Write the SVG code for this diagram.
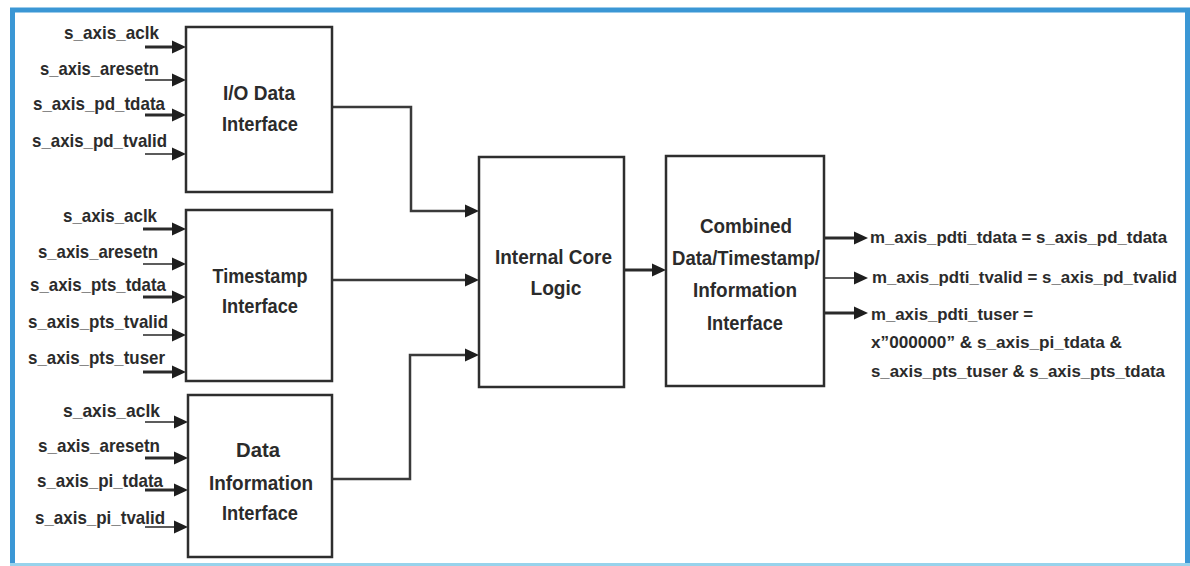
<svg xmlns="http://www.w3.org/2000/svg" width="1190" height="566" viewBox="0 0 1190 566">
<style>
.box{fill:#fff;stroke:#2e2e2e;stroke-width:2.5}
.t{font-family:"Liberation Sans",Arial,sans-serif;font-weight:bold;fill:#2b2b2b}
.lbl{font-size:19px;text-anchor:end}
.ttl{font-size:21px;text-anchor:middle}
.out{font-size:17px}
.w{fill:none;stroke:#2a2a2a;stroke-width:3}
.n{fill:none;stroke:#333;stroke-width:1.6}
.c{fill:none;stroke:#3a3a3a;stroke-width:2.5}
</style>
<defs>
<marker id="ah" markerUnits="userSpaceOnUse" markerWidth="15" markerHeight="14" refX="2" refY="6.5" orient="auto" overflow="visible">
<path d="M0,0 L14,6.5 L0,13 Z" fill="#1e1e1e"/>
</marker>
</defs>
<rect width="1190" height="566" fill="#fff"/>
<path d="M12.5,566 V10 H1187.5 V566" fill="none" stroke="#3b97d5" stroke-width="5"/>
<line x1="10" y1="564.5" x2="1190" y2="564.5" stroke="#98d3ec" stroke-width="3"/>

<g id="connectors">
<line class="w" x1="145" y1="47" x2="174" y2="47" marker-end="url(#ah)"/>
<line class="n" x1="145" y1="80" x2="174" y2="80" marker-end="url(#ah)"/>
<line class="w" x1="145" y1="115" x2="174" y2="115" marker-end="url(#ah)"/>
<line class="n" x1="145" y1="154" x2="174" y2="154" marker-end="url(#ah)"/>
<line class="w" x1="143" y1="229" x2="174" y2="229" marker-end="url(#ah)"/>
<line class="n" x1="143" y1="264" x2="174" y2="264" marker-end="url(#ah)"/>
<line class="w" x1="143" y1="297" x2="174" y2="297" marker-end="url(#ah)"/>
<line class="n" x1="143" y1="335" x2="174" y2="335" marker-end="url(#ah)"/>
<line class="w" x1="143" y1="372" x2="174" y2="372" marker-end="url(#ah)"/>
<line class="n" x1="145" y1="422" x2="176" y2="422" marker-end="url(#ah)"/>
<line class="w" x1="145" y1="458" x2="176" y2="458" marker-end="url(#ah)"/>
<line class="w" x1="145" y1="490" x2="176" y2="490" marker-end="url(#ah)"/>
<line class="n" x1="145" y1="527" x2="176" y2="527" marker-end="url(#ah)"/>
<path class="c" d="M332,107 H411 V211 H467" marker-end="url(#ah)"/>
<path class="c" d="M332,280 H467" marker-end="url(#ah)"/>
<path class="c" d="M332,479 H410 V355 H467" marker-end="url(#ah)"/>
<path class="w" d="M624,270 H654" marker-end="url(#ah)"/>
<path class="w" d="M824,238 H856" marker-end="url(#ah)"/>
<path class="n" d="M824,278 H856" marker-end="url(#ah)"/>
<path class="w" d="M824,313 H856" marker-end="url(#ah)"/>
</g>

<g id="io-data">
<rect class="box" x="186" y="27" width="146" height="165"/>
<text class="t ttl" x="259" y="100" textLength="72" lengthAdjust="spacingAndGlyphs">I/O Data</text>
<text class="t ttl" x="260" y="131" textLength="76" lengthAdjust="spacingAndGlyphs">Interface</text>
<text class="t lbl" x="159" y="39" textLength="95" lengthAdjust="spacingAndGlyphs">s_axis_aclk</text>
<text class="t lbl" x="159" y="75" textLength="119" lengthAdjust="spacingAndGlyphs">s_axis_aresetn</text>
<text class="t lbl" x="165" y="110" textLength="132" lengthAdjust="spacingAndGlyphs">s_axis_pd_tdata</text>
<text class="t lbl" x="167" y="147" textLength="135" lengthAdjust="spacingAndGlyphs">s_axis_pd_tvalid</text>
</g>

<g id="timestamp">
<rect class="box" x="186" y="210" width="146" height="171"/>
<text class="t ttl" x="260" y="283" textLength="95" lengthAdjust="spacingAndGlyphs">Timestamp</text>
<text class="t ttl" x="260" y="313" textLength="76" lengthAdjust="spacingAndGlyphs">Interface</text>
<text class="t lbl" x="157" y="222" textLength="94" lengthAdjust="spacingAndGlyphs">s_axis_aclk</text>
<text class="t lbl" x="158" y="258" textLength="120" lengthAdjust="spacingAndGlyphs">s_axis_aresetn</text>
<text class="t lbl" x="166" y="291" textLength="136" lengthAdjust="spacingAndGlyphs">s_axis_pts_tdata</text>
<text class="t lbl" x="168" y="328" textLength="140" lengthAdjust="spacingAndGlyphs">s_axis_pts_tvalid</text>
<text class="t lbl" x="165" y="364" textLength="137" lengthAdjust="spacingAndGlyphs">s_axis_pts_tuser</text>
</g>

<g id="data-information">
<rect class="box" x="188" y="395" width="144" height="162"/>
<text class="t ttl" x="258" y="457" textLength="44" lengthAdjust="spacingAndGlyphs">Data</text>
<text class="t ttl" x="261" y="490" textLength="104" lengthAdjust="spacingAndGlyphs">Information</text>
<text class="t ttl" x="260" y="520" textLength="76" lengthAdjust="spacingAndGlyphs">Interface</text>
<text class="t lbl" x="160" y="417" textLength="97" lengthAdjust="spacingAndGlyphs">s_axis_aclk</text>
<text class="t lbl" x="160" y="452" textLength="122" lengthAdjust="spacingAndGlyphs">s_axis_aresetn</text>
<text class="t lbl" x="163" y="487" textLength="126" lengthAdjust="spacingAndGlyphs">s_axis_pi_tdata</text>
<text class="t lbl" x="165" y="524" textLength="130" lengthAdjust="spacingAndGlyphs">s_axis_pi_tvalid</text>
</g>

<g id="internal-core">
<rect class="box" x="479" y="157" width="145" height="230"/>
<text class="t ttl" x="553.5" y="264" textLength="117" lengthAdjust="spacingAndGlyphs">Internal Core</text>
<text class="t ttl" x="556" y="295" textLength="51" lengthAdjust="spacingAndGlyphs">Logic</text>
</g>

<g id="combined">
<rect class="box" x="666" y="156" width="158" height="230"/>
<text class="t ttl" x="746" y="233" textLength="92" lengthAdjust="spacingAndGlyphs">Combined</text>
<text class="t ttl" x="746" y="265" textLength="148" lengthAdjust="spacingAndGlyphs">Data/Timestamp/</text>
<text class="t ttl" x="745" y="297" textLength="104" lengthAdjust="spacingAndGlyphs">Information</text>
<text class="t ttl" x="745" y="330" textLength="76" lengthAdjust="spacingAndGlyphs">Interface</text>
</g>

<g id="outputs">
<text class="t out" x="870" y="243" textLength="297" lengthAdjust="spacingAndGlyphs">m_axis_pdti_tdata = s_axis_pd_tdata</text>
<text class="t out" x="872" y="283" textLength="305" lengthAdjust="spacingAndGlyphs">m_axis_pdti_tvalid = s_axis_pd_tvalid</text>
<text class="t out" x="871" y="320" textLength="162" lengthAdjust="spacingAndGlyphs">m_axis_pdti_tuser =</text>
<text class="t out" x="871" y="348" textLength="251" lengthAdjust="spacingAndGlyphs">x”000000” &amp; s_axis_pi_tdata &amp;</text>
<text class="t out" x="871" y="377" textLength="294" lengthAdjust="spacingAndGlyphs">s_axis_pts_tuser &amp; s_axis_pts_tdata</text>
</g>
</svg>
